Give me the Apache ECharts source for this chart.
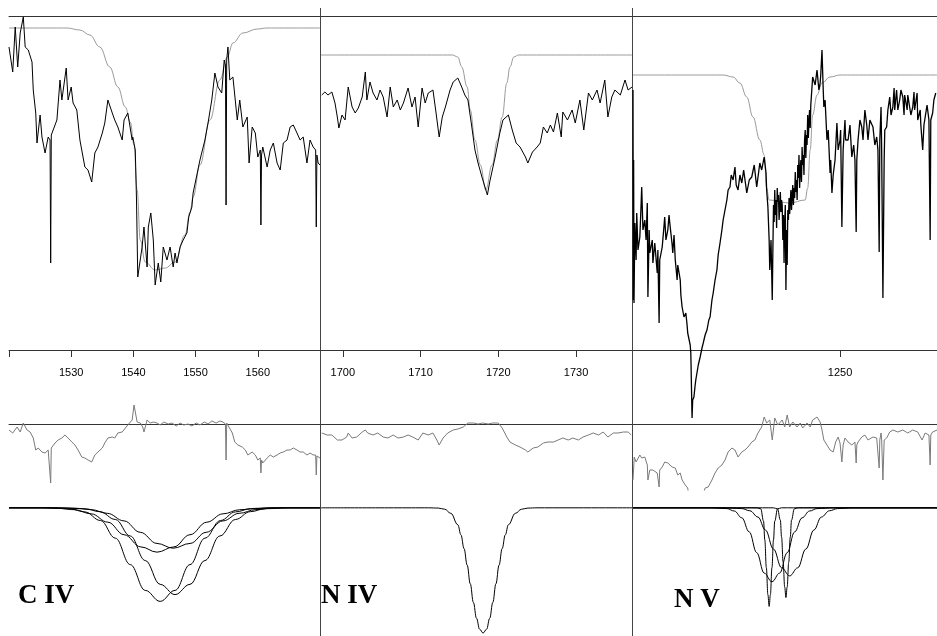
<!DOCTYPE html>
<html><head><meta charset="utf-8">
<script src="https://cdn.jsdelivr.net/npm/echarts@6/dist/echarts.min.js"></script>
<style>html,body{margin:0;padding:0;background:#fff}#c{width:937px;height:636px}</style>
</head><body><div id="c"></div>
<script>
// ---------- C IV panel ----------
const civSpectrum = [[1520.0,4.03],[1520.6,3.78],[1521.0,4.23],[1521.4,3.83],[1521.8,4.17],[1522.3,4.33],[1522.6,4.03],[1523.1,4.00],[1523.7,3.88],[1523.9,3.60],[1524.3,3.37],[1524.5,3.07],[1525.0,3.35],[1525.3,3.13],[1525.8,2.97],[1526.3,3.13],[1526.6,3.10],[1526.7,1.87],[1526.8,3.15],[1527.1,3.20],[1527.7,3.30],[1528.2,3.70],[1528.5,3.50],[1529.2,3.82],[1529.5,3.50],[1530.0,3.63],[1530.3,3.47],[1530.9,3.40],[1531.4,3.10],[1531.9,2.93],[1532.2,2.83],[1532.7,2.80],[1533.3,2.68],[1533.8,2.97],[1534.3,3.03],[1535.0,3.17],[1535.4,3.27],[1535.9,3.50],[1536.6,3.37],[1537.0,3.30],[1537.5,3.23],[1538.2,3.10],[1538.5,3.30],[1539.1,3.37],[1539.8,3.10],[1539.9,3.13],[1540.3,3.00],[1540.5,2.50],[1540.7,1.73],[1541.4,2.03],[1541.7,2.23],[1542.2,1.83],[1542.4,2.23],[1542.8,2.37],[1543.2,2.10],[1543.5,1.65],[1544.0,1.87],[1544.4,1.68],[1544.8,2.03],[1545.4,1.90],[1545.9,2.03],[1546.4,1.83],[1546.7,1.97],[1547.0,1.87],[1547.5,2.03],[1548.0,2.10],[1548.6,2.17],[1548.9,2.33],[1549.4,2.43],[1549.6,2.57],[1550.2,2.75],[1550.7,2.90],[1551.5,3.10],[1552.0,3.27],[1552.6,3.50],[1553.1,3.77],[1553.6,3.63],[1554.2,3.57],[1554.6,3.90],[1554.8,3.85],[1554.9,2.45],[1555.0,3.90],[1555.2,4.03],[1555.5,3.70],[1556.0,3.73],[1556.7,3.30],[1557.1,3.50],[1557.6,3.23],[1558.3,3.33],[1558.6,2.87],[1559.1,3.23],[1559.6,3.17],[1560.0,2.93],[1560.4,3.00],[1560.5,2.25],[1560.6,2.95],[1560.8,3.03],[1561.5,2.83],[1562.0,3.00],[1562.5,3.07],[1563.1,2.87],[1563.6,2.80],[1564.1,3.07],[1564.7,3.10],[1565.2,3.23],[1565.7,3.25],[1566.3,3.17],[1566.8,3.10],[1567.3,3.13],[1567.9,2.87],[1568.4,3.10],[1568.9,3.03],[1569.3,3.00],[1569.4,2.23],[1569.5,2.95],[1569.7,2.87],[1570.0,2.85]];
const civContinuum = [[1520.0,4.22],[1529.3,4.22],[1531.4,4.20],[1533.0,4.15],[1534.6,4.03],[1536.2,3.83],[1537.5,3.63],[1538.7,3.43],[1539.5,3.28],[1540.1,3.05],[1540.6,2.60],[1541.1,2.10],[1541.9,1.88],[1543.5,1.80],[1545.1,1.82],[1546.7,1.88],[1548.3,2.15],[1549.1,2.38],[1549.6,2.53],[1550.7,2.85],[1552.3,3.30],[1553.9,3.70],[1555.1,3.93],[1556.0,4.07],[1557.6,4.17],[1559.9,4.21],[1561.5,4.22],[1570.0,4.22]];
const civResidual = [[1520.0,-0.06],[1520.6,-0.09],[1521.3,-0.03],[1521.8,-0.08],[1522.3,0.01],[1522.9,-0.06],[1523.4,-0.08],[1523.9,-0.14],[1524.3,-0.26],[1524.7,-0.24],[1525.3,-0.28],[1525.8,-0.29],[1526.3,-0.26],[1526.6,-0.28],[1526.7,-0.59],[1526.8,-0.24],[1527.1,-0.23],[1527.4,-0.19],[1527.9,-0.16],[1528.5,-0.14],[1529.0,-0.11],[1529.5,-0.14],[1530.1,-0.18],[1530.6,-0.21],[1531.1,-0.26],[1531.7,-0.33],[1532.2,-0.34],[1532.7,-0.36],[1533.3,-0.38],[1533.8,-0.31],[1534.3,-0.28],[1535.0,-0.24],[1535.4,-0.19],[1535.9,-0.14],[1536.6,-0.13],[1537.0,-0.14],[1537.5,-0.09],[1538.2,-0.08],[1538.7,-0.04],[1539.1,-0.01],[1539.8,0.04],[1540.1,0.19],[1540.6,0.02],[1541.1,0.01],[1541.5,-0.03],[1541.7,-0.08],[1542.2,0.04],[1542.7,0.01],[1543.2,0.02],[1543.8,0.01],[1544.3,-0.01],[1544.9,0.02],[1545.6,0.00],[1546.2,0.01],[1546.9,-0.02],[1547.5,0.01],[1548.1,-0.01],[1548.8,0.00],[1549.4,-0.02],[1550.1,0.01],[1550.7,-0.01],[1551.4,0.02],[1552.0,0.00],[1552.6,0.03],[1553.3,0.01],[1553.9,0.03],[1554.4,0.02],[1554.8,0.00],[1554.9,-0.36],[1555.0,0.01],[1555.2,0.01],[1555.9,-0.09],[1556.3,-0.18],[1556.8,-0.21],[1557.5,-0.23],[1558.0,-0.26],[1558.4,-0.31],[1559.1,-0.28],[1559.6,-0.31],[1560.0,-0.36],[1560.4,-0.34],[1560.5,-0.49],[1560.6,-0.36],[1560.8,-0.39],[1561.5,-0.34],[1562.0,-0.31],[1562.5,-0.33],[1563.1,-0.31],[1563.6,-0.29],[1564.1,-0.28],[1564.7,-0.26],[1565.2,-0.26],[1565.7,-0.24],[1566.3,-0.26],[1566.8,-0.28],[1567.3,-0.28],[1567.9,-0.31],[1568.4,-0.29],[1568.9,-0.31],[1569.3,-0.31],[1569.4,-0.51],[1569.5,-0.32],[1569.7,-0.33],[1570.0,-0.34]];
const civModelA = [[1520,1],[1526,1],[1529.8,0.992],[1532.2,0.968],[1534.7,0.901],[1537.1,0.763],[1539.5,0.557],[1541.9,0.356],[1544.3,0.27],[1546.7,0.356],[1549.1,0.557],[1551.5,0.763],[1554.0,0.901],[1556.4,0.968],[1558.8,0.992],[1562,1],[1570,1]];
const civModelB = [[1520,1],[1528,1],[1532.2,0.993],[1534.6,0.970],[1537.1,0.909],[1539.5,0.780],[1541.9,0.589],[1544.3,0.403],[1546.7,0.323],[1549.1,0.403],[1551.5,0.589],[1553.9,0.780],[1556.4,0.909],[1558.8,0.970],[1561.2,0.993],[1565,1],[1570,1]];
const civModelC = [[1520,1],[1525,1],[1527.9,0.996],[1530.6,0.985],[1533.2,0.953],[1535.9,0.888],[1538.5,0.790],[1541.2,0.695],[1543.8,0.654],[1546.5,0.695],[1549.1,0.790],[1551.8,0.888],[1554.4,0.953],[1557.1,0.985],[1559.7,0.996],[1563,1],[1570,1]];
const civModelD = [[1520,1],[1527,1],[1530.5,0.997],[1533.2,0.986],[1535.8,0.957],[1538.5,0.898],[1541.1,0.809],[1543.8,0.722],[1546.4,0.685],[1549.1,0.722],[1551.7,0.809],[1554.4,0.898],[1557.0,0.957],[1559.7,0.986],[1562.3,0.997],[1565,1],[1570,1]];

// ---------- N IV panel ----------
const nivSpectrum = [[1697.3,3.55],[1697.7,3.58],[1698.1,3.55],[1698.6,3.58],[1699.0,3.47],[1699.3,3.33],[1699.5,3.22],[1699.9,3.35],[1700.3,3.30],[1700.7,3.63],[1701.2,3.43],[1701.6,3.37],[1702.0,3.42],[1702.5,3.53],[1702.9,3.78],[1703.1,3.50],[1703.5,3.68],[1703.9,3.57],[1704.4,3.50],[1704.8,3.60],[1705.2,3.53],[1705.7,3.33],[1706.1,3.63],[1706.5,3.43],[1707.0,3.50],[1707.4,3.40],[1707.8,3.47],[1708.4,3.62],[1708.9,3.43],[1709.3,3.53],[1709.7,3.23],[1710.2,3.62],[1710.6,3.47],[1711.0,3.57],[1711.6,3.60],[1712.0,3.37],[1712.4,3.13],[1712.8,3.33],[1713.2,3.43],[1713.8,3.60],[1714.2,3.68],[1714.8,3.72],[1715.3,3.63],[1715.7,3.55],[1716.1,3.50],[1716.6,3.23],[1717.0,3.00],[1717.4,2.87],[1717.9,2.73],[1718.6,2.55],[1718.9,2.68],[1719.6,2.93],[1720.2,3.17],[1720.6,3.30],[1721.3,3.35],[1721.8,3.20],[1722.3,3.07],[1722.8,3.03],[1723.5,2.93],[1723.8,2.87],[1724.4,2.98],[1725.0,3.03],[1725.4,3.07],[1725.8,3.23],[1726.3,3.17],[1726.7,3.25],[1727.1,3.18],[1727.6,3.37],[1728.1,3.13],[1728.3,3.38],[1728.9,3.30],[1729.5,3.40],[1729.9,3.27],[1730.5,3.50],[1731.0,3.20],[1731.6,3.57],[1732.1,3.50],[1732.7,3.60],[1733.1,3.47],[1733.7,3.70],[1734.1,3.33],[1734.6,3.53],[1735.0,3.60],[1735.7,3.55],[1736.3,3.70],[1736.7,3.60],[1737.2,3.63]];
const nivContinuum = [[1697.2,3.95],[1714.1,3.95],[1714.8,3.93],[1715.3,3.83],[1716.0,3.63],[1716.4,3.40],[1717.0,3.10],[1717.7,2.85],[1718.4,2.60],[1719.2,2.85],[1719.9,3.10],[1720.5,3.33],[1721.1,3.67],[1721.5,3.83],[1722.0,3.93],[1722.6,3.95],[1737.2,3.95]];
const nivResidual = [[1697.3,-0.09],[1698.0,-0.11],[1698.6,-0.11],[1699.3,-0.16],[1699.9,-0.16],[1700.5,-0.13],[1700.7,-0.09],[1701.2,-0.14],[1701.8,-0.13],[1702.5,-0.08],[1702.9,-0.06],[1703.2,-0.09],[1703.9,-0.11],[1704.5,-0.09],[1705.2,-0.13],[1705.8,-0.14],[1706.5,-0.11],[1707.1,-0.14],[1707.8,-0.13],[1708.4,-0.11],[1709.0,-0.13],[1709.7,-0.16],[1710.3,-0.09],[1711.0,-0.11],[1711.6,-0.09],[1712.1,-0.16],[1712.4,-0.21],[1712.9,-0.14],[1713.5,-0.09],[1714.2,-0.06],[1714.8,-0.05],[1715.5,-0.03],[1716.1,0.01],[1716.8,0.01],[1717.4,0.00],[1718.0,0.01],[1718.7,0.00],[1719.3,0.01],[1720.0,0.01],[1720.5,-0.04],[1721.1,-0.13],[1721.5,-0.18],[1722.2,-0.21],[1722.8,-0.23],[1723.5,-0.26],[1723.8,-0.28],[1724.5,-0.24],[1725.1,-0.23],[1725.8,-0.19],[1726.4,-0.18],[1727.1,-0.18],[1727.7,-0.16],[1728.3,-0.14],[1729.0,-0.16],[1729.6,-0.14],[1730.3,-0.16],[1730.9,-0.13],[1731.6,-0.11],[1732.2,-0.09],[1732.9,-0.11],[1733.5,-0.08],[1734.1,-0.13],[1734.8,-0.09],[1735.4,-0.09],[1736.1,-0.08],[1736.7,-0.08],[1737.1,-0.11]];
const nivModel = [[1697.2,1],[1711.0,1],[1712.3,0.998],[1713.1,0.989],[1713.9,0.957],[1714.8,0.868],[1715.2,0.789],[1715.6,0.682],[1716.0,0.553],[1716.4,0.407],[1716.8,0.262],[1717.2,0.138],[1717.6,0.053],[1718.05,0.023],[1718.5,0.053],[1718.9,0.138],[1719.3,0.262],[1719.7,0.407],[1720.1,0.553],[1720.5,0.682],[1720.9,0.789],[1721.3,0.868],[1722.2,0.957],[1723.0,0.989],[1723.8,0.998],[1725.0,1],[1737.2,1]];

// ---------- N V panel ----------
const nvSpectrum = [[1216.70,3.60],[1216.75,1.50],[1216.80,2.90],[1216.86,1.47],[1217.0,2.27],[1217.2,1.90],[1217.3,2.37],[1217.5,2.00],[1217.8,2.13],[1218.0,2.45],[1218.1,2.63],[1218.3,2.20],[1218.6,2.30],[1218.8,2.10],[1219.0,2.47],[1219.1,1.53],[1219.3,2.20],[1219.4,1.97],[1219.8,2.10],[1219.9,1.87],[1220.2,2.07],[1220.6,1.77],[1220.7,2.00],[1220.9,1.27],[1221.0,1.90],[1221.4,2.03],[1221.7,2.25],[1221.8,2.33],[1222.0,2.10],[1222.3,2.20],[1222.5,2.35],[1222.6,2.28],[1223.0,2.05],[1223.1,1.97],[1223.3,2.15],[1223.5,1.90],[1223.8,1.70],[1223.9,1.85],[1224.3,1.70],[1224.4,1.55],[1224.6,1.43],[1224.9,1.33],[1225.2,1.37],[1225.4,1.25],[1225.5,1.17],[1225.9,1.05],[1226.0,0.97],[1226.2,0.32],[1226.3,0.50],[1226.5,0.53],[1226.7,0.65],[1226.8,0.70],[1227.2,0.85],[1227.5,0.93],[1227.8,1.02],[1228.0,1.07],[1228.3,1.15],[1228.6,1.20],[1228.9,1.30],[1229.1,1.33],[1229.4,1.50],[1229.6,1.57],[1229.9,1.70],[1230.2,1.80],[1230.4,1.95],[1230.7,2.07],[1231.0,2.20],[1231.2,2.30],[1231.5,2.40],[1231.8,2.50],[1232.0,2.60],[1232.3,2.63],[1232.5,2.75],[1232.8,2.70],[1233.1,2.83],[1233.3,2.65],[1233.6,2.60],[1233.9,2.75],[1234.2,2.67],[1234.5,2.80],[1235.0,2.57],[1235.4,2.70],[1235.8,2.73],[1236.2,2.85],[1236.6,2.63],[1237.1,2.87],[1237.4,2.80],[1237.8,2.93],[1238.1,2.77],[1238.2,2.60],[1238.4,2.43],[1238.6,2.10],[1238.7,1.80],[1238.9,2.10],[1239.1,1.50],[1239.2,2.00],[1239.3,2.45],[1239.4,2.28],[1239.5,2.60],[1239.6,2.35],[1239.7,2.50],[1239.8,2.22],[1239.9,2.62],[1240.0,2.48],[1240.1,2.55],[1240.2,2.30],[1240.3,2.42],[1240.4,2.58],[1240.5,2.38],[1240.6,2.50],[1240.7,2.45],[1240.8,2.10],[1240.9,2.35],[1241.0,1.87],[1241.1,2.28],[1241.2,2.45],[1241.3,1.60],[1241.4,2.20],[1241.5,1.85],[1241.6,2.40],[1241.7,2.30],[1241.8,2.52],[1241.9,2.36],[1242.0,2.48],[1242.1,2.60],[1242.2,2.40],[1242.3,2.55],[1242.4,2.65],[1242.5,2.45],[1242.6,2.62],[1242.7,2.52],[1242.8,2.78],[1242.9,2.58],[1243.0,2.70],[1243.1,2.50],[1243.2,2.85],[1243.3,2.72],[1243.4,2.95],[1243.5,2.62],[1243.6,2.80],[1243.7,2.90],[1243.8,2.68],[1243.9,3.03],[1244.0,2.85],[1244.1,2.95],[1244.2,2.75],[1244.3,3.10],[1244.4,3.20],[1244.5,2.92],[1244.6,3.15],[1244.7,3.05],[1244.8,3.35],[1244.9,3.12],[1245.0,3.28],[1245.1,3.40],[1245.2,3.22],[1245.3,3.45],[1245.6,3.73],[1246.0,3.65],[1246.3,3.80],[1246.6,3.60],[1246.8,3.67],[1246.9,3.75],[1247.1,4.00],[1247.3,3.60],[1247.4,3.43],[1247.6,3.50],[1247.9,3.10],[1248.1,3.20],[1248.4,2.77],[1248.5,2.90],[1248.7,2.57],[1248.9,2.75],[1249.2,2.90],[1249.5,3.27],[1249.7,3.00],[1250.0,3.10],[1250.1,3.20],[1250.3,2.23],[1250.5,3.00],[1250.8,3.30],[1250.9,3.10],[1251.3,3.10],[1251.6,3.25],[1251.9,2.93],[1252.2,3.05],[1252.4,2.90],[1252.6,2.18],[1252.7,2.90],[1252.9,3.10],[1253.2,3.30],[1253.5,3.23],[1253.7,3.10],[1254.0,3.40],[1254.3,3.25],[1254.5,3.10],[1254.8,3.30],[1255.3,3.23],[1255.6,3.05],[1255.9,3.13],[1256.1,3.00],[1256.3,1.98],[1256.4,3.10],[1256.6,3.43],[1256.7,3.00],[1256.9,1.52],[1257.1,2.90],[1257.2,3.20],[1257.5,3.23],[1257.7,3.40],[1258.0,3.53],[1258.2,3.35],[1258.5,3.43],[1258.7,3.62],[1258.8,3.40],[1259.1,3.60],[1259.3,3.40],[1259.6,3.50],[1259.8,3.60],[1260.1,3.53],[1260.3,3.35],[1260.4,3.55],[1260.8,3.40],[1260.9,3.55],[1261.2,3.53],[1261.4,3.35],[1261.7,3.43],[1261.9,3.58],[1262.0,3.40],[1262.4,3.57],[1262.5,3.30],[1262.9,3.40],[1263.0,3.25],[1263.3,3.00],[1263.5,3.25],[1263.7,3.33],[1264.0,3.45],[1264.1,3.40],[1264.3,3.30],[1264.5,2.10],[1264.6,3.30],[1264.9,3.37],[1265.1,3.50],[1265.4,3.57]];
const nvContinuum = [[1216.7,3.75],[1231.2,3.75],[1232.8,3.73],[1233.9,3.67],[1235.0,3.53],[1236.0,3.33],[1237.1,3.10],[1237.8,2.95],[1238.2,2.62],[1238.6,2.50],[1241.9,2.47],[1244.4,2.50],[1244.8,2.62],[1245.2,3.00],[1245.6,3.35],[1246.3,3.55],[1247.1,3.67],[1248.4,3.73],[1250.0,3.75],[1265.6,3.75]];
const nvResidual = [[1216.7,-0.56],[1216.9,-0.33],[1217.2,-0.38],[1217.5,-0.36],[1217.8,-0.31],[1218.1,-0.34],[1218.6,-0.33],[1219.0,-0.41],[1219.1,-0.56],[1219.4,-0.46],[1219.9,-0.46],[1220.2,-0.44],[1220.6,-0.49],[1220.9,-0.63],[1221.0,-0.46],[1221.4,-0.43],[1221.8,-0.38],[1222.3,-0.39],[1222.6,-0.41],[1223.0,-0.43],[1223.5,-0.44],[1223.9,-0.51],[1224.3,-0.49],[1224.6,-0.56],[1225.1,-0.61],[1225.5,-0.64],[1226.2,-0.96],[1227.2,-0.86],[1228.3,-0.64],[1228.8,-0.63],[1229.4,-0.56],[1229.9,-0.49],[1230.4,-0.44],[1231.0,-0.41],[1231.5,-0.36],[1232.0,-0.28],[1232.6,-0.24],[1233.1,-0.26],[1233.6,-0.33],[1234.2,-0.28],[1234.7,-0.26],[1235.2,-0.23],[1235.8,-0.18],[1236.3,-0.16],[1236.8,-0.09],[1237.4,-0.03],[1237.8,0.07],[1238.2,0.01],[1238.7,0.04],[1239.1,-0.16],[1239.5,0.06],[1240.0,-0.01],[1240.7,0.04],[1241.1,-0.03],[1241.5,0.09],[1241.9,-0.03],[1242.4,0.02],[1243.1,-0.03],[1243.6,0.01],[1244.0,-0.04],[1244.7,0.01],[1245.2,-0.03],[1245.6,0.04],[1246.3,0.07],[1246.8,0.02],[1247.1,-0.06],[1247.4,-0.16],[1247.9,-0.21],[1248.4,-0.26],[1248.9,-0.28],[1249.3,-0.18],[1249.7,-0.13],[1250.0,-0.19],[1250.3,-0.38],[1250.5,-0.21],[1250.8,-0.14],[1251.3,-0.18],[1251.9,-0.21],[1252.4,-0.18],[1252.6,-0.39],[1252.7,-0.21],[1252.9,-0.18],[1253.5,-0.13],[1254.0,-0.11],[1254.5,-0.16],[1255.3,-0.13],[1255.9,-0.14],[1256.3,-0.44],[1256.4,-0.16],[1256.6,-0.09],[1256.7,-0.16],[1256.9,-0.56],[1257.1,-0.16],[1257.5,-0.14],[1258.0,-0.08],[1258.5,-0.06],[1259.3,-0.08],[1260.1,-0.06],[1260.9,-0.09],[1261.7,-0.06],[1262.5,-0.08],[1263.2,-0.16],[1263.7,-0.09],[1264.3,-0.11],[1264.5,-0.41],[1264.6,-0.11],[1264.9,-0.08],[1265.6,-0.06]];
const nvModelE = [[1216.7,1],[1229,1],[1231.8,0.994],[1233.0,0.975],[1234.2,0.922],[1235.4,0.812],[1236.6,0.650],[1237.8,0.491],[1239.05,0.423],[1240.3,0.491],[1241.5,0.650],[1242.7,0.812],[1243.9,0.922],[1245.1,0.975],[1246.3,0.994],[1249,1],[1265.6,1]];
const nvModelF = [[1216.7,1],[1231,1],[1234.2,0.994],[1235.5,0.977],[1236.8,0.928],[1238.0,0.827],[1239.3,0.678],[1240.6,0.532],[1241.9,0.469],[1243.2,0.532],[1244.5,0.678],[1245.8,0.827],[1247.0,0.928],[1248.3,0.977],[1249.6,0.994],[1252,1],[1265.6,1]];
const nvModelG = [[1216.7,1],[1236.6,1],[1237.25,0.992],[1237.7,0.896],[1237.9,0.750],[1238.15,0.533],[1238.4,0.322],[1238.6,0.231],[1238.8,0.322],[1239.05,0.533],[1239.3,0.750],[1239.5,0.896],[1239.95,0.992],[1240.6,1],[1265.6,1]];
const nvModelH = [[1216.7,1],[1239.3,1],[1239.95,0.992],[1240.4,0.905],[1240.6,0.772],[1240.85,0.575],[1241.1,0.383],[1241.3,0.30],[1241.5,0.383],[1241.75,0.575],[1242.0,0.772],[1242.2,0.905],[1242.65,0.992],[1243.3,1],[1265.6,1]];

// ---------- axes ----------
const waveRanges = [[1520,1570],[1697.2,1737.2],[1216.7,1265.6]];
const tickValues = [[1520,1530,1540,1550,1560],[1700,1710,1720,1730],[1250]];
const labelValues = [[1530,1540,1550,1560],[1700,1710,1720,1730],[1250]];
const ionLabels = ['C IV','N IV','N V'];

const spectra = [civSpectrum, nivSpectrum, nvSpectrum];
const continua = [civContinuum, nivContinuum, nvContinuum];
const residuals = [civResidual, nivResidual, nvResidual];
const models = [[civModelA,civModelB,civModelC,civModelD],[nivModel],[nvModelE,nvModelF,nvModelG,nvModelH]];

const colLayout = [{left:9,width:311},{left:321,width:311},{left:633,width:304}];
const rowLayout = [{top:16,height:334},{top:380,height:110},{top:495,height:143}];
const yRanges = [[1.0,4.34],[-0.66,0.44],[0,1.1]];
const spectrumWidth = [1,1,1.3];

const grid=[], xAxis=[], yAxis=[], series=[];
const axisColor = '#333';
for (let r=0;r<3;r++){
  for (let c=0;c<3;c++){
    const gi = grid.length;
    grid.push({left:colLayout[c].left, width:colLayout[c].width, top:rowLayout[r].top, height:rowLayout[r].height, containLabel:false});
    yAxis.push({type:'value', gridIndex:gi, min:yRanges[r][0], max:yRanges[r][1], show:false});
    const base = {type:'value', gridIndex:gi, min:waveRanges[c][0], max:waveRanges[c][1], splitLine:{show:false}};
    if (r===0){
      xAxis.push(Object.assign({}, base, {
        position:'bottom',
        axisLine:{show:true, onZero:false, lineStyle:{color:axisColor,width:1}},
        axisTick:{show:true, customValues:tickValues[c], length:7, lineStyle:{color:axisColor}},
        axisLabel:{show:true, customValues:labelValues[c], margin:17, fontSize:11, color:'#000',
          fontFamily:'Liberation Sans, Arial, sans-serif', formatter:v=>String(v)}
      }));
      xAxis.push(Object.assign({}, base, {
        position:'top',
        axisLine:{show:true, onZero:false, lineStyle:{color:axisColor,width:1}},
        axisTick:{show:false}, axisLabel:{show:false}
      }));
    } else if (r===1){
      xAxis.push(Object.assign({}, base, {
        axisLine:{show:true, onZero:true, lineStyle:{color:axisColor,width:1}},
        axisTick:{show:false}, axisLabel:{show:false}
      }));
    } else {
      xAxis.push(Object.assign({}, base, {show:false}));
    }
    const xi = (r===0) ? xAxis.length-2 : xAxis.length-1;
    const lineBase = {type:'line', xAxisIndex:xi, yAxisIndex:gi, showSymbol:false, symbol:'none', animation:false, silent:true};
    if (r===0){
      series.push(Object.assign({}, lineBase, {data:continua[c], smooth:0.4, smoothMonotone:'x', clip:false, z:2, lineStyle:{color:'#9a9a9a', width:1}}));
      series.push(Object.assign({}, lineBase, {data:spectra[c], clip:false, z:3, lineStyle:{color:'#000', width:spectrumWidth[c]}}));
    } else if (r===1){
      series.push(Object.assign({}, lineBase, {data:residuals[c], clip:true, z:3, lineStyle:{color:'#7a7a7a', width:1}}));
    } else {
      models[c].forEach(m=>{
        series.push(Object.assign({}, lineBase, {data:m, smooth:0.4, smoothMonotone:'x', clip:false, z:3, lineStyle:{color:'#000', width:1}}));
      });
    }
  }
}

const title = ionLabels.map((t,i)=>({
  text:t, left:[18,321,674][i], top:[583,583,587][i], padding:0,
  textStyle:{fontFamily:'Liberation Serif, Times New Roman, serif', fontWeight:'bold', fontSize:27, color:'#000'}
}));

const chart = echarts.init(document.getElementById('c'), null, {renderer:'canvas'});
chart.setOption({
  animation:false, backgroundColor:'#fff',
  title, grid, xAxis, yAxis, series,
  graphic:[
    {type:'line', shape:{x1:320.5,y1:8,x2:320.5,y2:636}, style:{stroke:'#444',lineWidth:1}, silent:true},
    {type:'line', shape:{x1:632.5,y1:8,x2:632.5,y2:636}, style:{stroke:'#444',lineWidth:1}, silent:true}
  ]
});
</script>
</body></html>
